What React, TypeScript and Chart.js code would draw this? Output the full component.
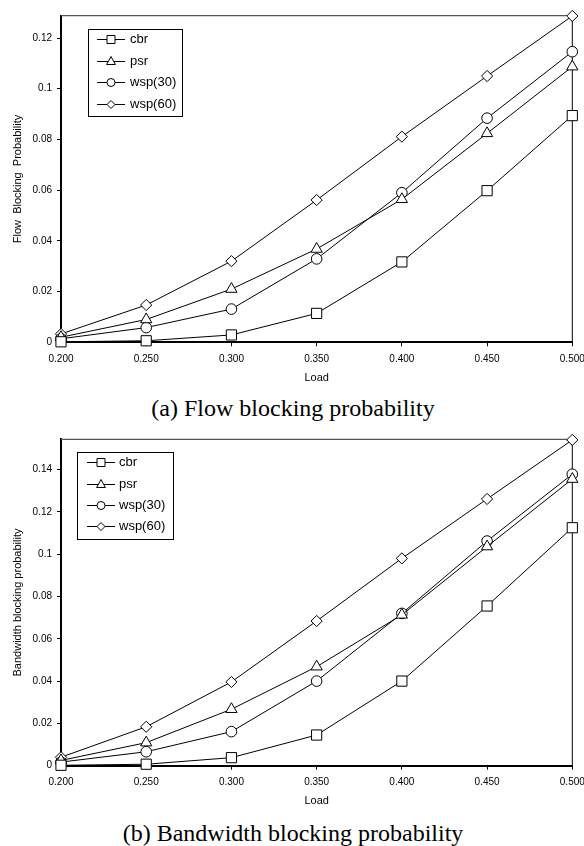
import React, { useEffect, useRef } from 'react';
import { Chart, registerables } from 'chart.js';

Chart.register(...registerables);

// ---------- data ----------
const loads = ['0.200', '0.250', '0.300', '0.350', '0.400', '0.450', '0.500'];
const seriesNames = ['cbr', 'psr', 'wsp(30)', 'wsp(60)'];

const flowCbr = [0.0002, 0.0006, 0.0029, 0.0114, 0.0317, 0.0598, 0.0894];
const flowPsr = [0.002, 0.009, 0.021, 0.0368, 0.0564, 0.0824, 0.1087];
const flowWsp30 = [0.0014, 0.0058, 0.0131, 0.0329, 0.059, 0.0884, 0.1146];
const flowWsp60 = [0.0033, 0.0147, 0.032, 0.0561, 0.0811, 0.105, 0.1287];

const bwCbr = [0.0002, 0.0007, 0.0038, 0.0145, 0.04, 0.0755, 0.1125];
const bwPsr = [0.0025, 0.0109, 0.0267, 0.0468, 0.0713, 0.1036, 0.1355];
const bwWsp30 = [0.0017, 0.0066, 0.0161, 0.04, 0.072, 0.1062, 0.1378];
const bwWsp60 = [0.004, 0.0184, 0.0396, 0.0684, 0.098, 0.1261, 0.154];

const flowYTicks = [0, 0.02, 0.04, 0.06, 0.08, 0.1, 0.12];
const flowYTickLabels = ['0', '0.02', '0.04', '0.06', '0.08', '0.1', '0.12'];
const bwYTicks = [0, 0.02, 0.04, 0.06, 0.08, 0.1, 0.12, 0.14];
const bwYTickLabels = ['0', '0.02', '0.04', '0.06', '0.08', '0.1', '0.12', '0.14'];

const FONT = "'Liberation Sans', Arial, sans-serif";

const markerStyles = ['rect', 'triangle', 'circle', 'rectRot'];
const markerRadii = [7.2, 6.5, 5.3, 5.6];
const legendMarkerSize = [4, 4.2, 4, 4];

const CANVAS_W = 632;
const PLOT_RIGHT = 572.3;

function drawMarker(ctx: CanvasRenderingContext2D, style: string, x: number, y: number, r: number) {
  ctx.beginPath();
  if (style === 'rect') {
    ctx.rect(x - r, y - r, 2 * r, 2 * r);
  } else if (style === 'triangle') {
    const h = r * 1.9;
    ctx.moveTo(x, y - h / 2 - 1);
    ctx.lineTo(x + r * 1.05, y + h / 2 - 1);
    ctx.lineTo(x - r * 1.05, y + h / 2 - 1);
    ctx.closePath();
  } else if (style === 'circle') {
    ctx.arc(x, y, r, 0, Math.PI * 2);
  } else {
    ctx.moveTo(x - r, y);
    ctx.lineTo(x, y - r);
    ctx.lineTo(x + r, y);
    ctx.lineTo(x, y + r);
    ctx.closePath();
  }
  ctx.fillStyle = '#fff';
  ctx.fill();
  ctx.stroke();
}

const boxLegend = {
  id: 'boxLegend',
  afterDraw(chart: any, _args: any, opts: any) {
    const { ctx, chartArea } = chart;
    const x = Math.round(chartArea.left + opts.dx);
    const y = Math.round(chartArea.top + opts.dy);
    ctx.save();
    ctx.fillStyle = '#fff';
    ctx.fillRect(x, y, opts.w, opts.h);
    ctx.strokeStyle = '#000';
    ctx.lineWidth = 1;
    ctx.strokeRect(x + 0.5, y + 0.5, opts.w, opts.h);
    chart.data.datasets.forEach((ds: any, i: number) => {
      const cy = Math.round(y + opts.firstRow + i * opts.rowGap) + 0.5;
      ctx.beginPath();
      ctx.moveTo(x + opts.lineX1, cy);
      ctx.lineTo(x + opts.lineX2, cy);
      ctx.strokeStyle = '#000';
      ctx.lineWidth = 1;
      ctx.stroke();
      drawMarker(ctx, markerStyles[i], x + opts.markX, cy, legendMarkerSize[i]);
      ctx.fillStyle = '#000';
      ctx.font = `13px ${FONT}`;
      ctx.textAlign = 'left';
      ctx.textBaseline = 'middle';
      ctx.fillText(ds.label, x + opts.textX, cy);
    });
    ctx.restore();
  },
};

const frame = {
  id: 'frame',
  beforeDatasetsDraw(chart: any) {
    const { ctx, chartArea } = chart;
    ctx.save();
    ctx.strokeStyle = '#555';
    ctx.lineWidth = 1.3;
    ctx.beginPath();
    ctx.moveTo(chartArea.left, chartArea.top);
    ctx.lineTo(chartArea.right, chartArea.top);
    ctx.stroke();
    ctx.strokeStyle = '#000';
    ctx.lineWidth = 1;
    ctx.beginPath();
    ctx.moveTo(chartArea.right, chartArea.top);
    ctx.lineTo(chartArea.right, chartArea.bottom);
    ctx.stroke();
    ctx.restore();
  },
};

type PanelProps = {
  series: number[][];
  yTicks: number[];
  yTickLabels: string[];
  yMax: number;
  yTitle: string;
  padTop: number;
  xAxisH: number;
  xTitlePad: number;
  yTitlePad: number;
  legend: any;
  top: number;
  height: number;
};

function Panel(p: PanelProps) {
  const ref = useRef<HTMLCanvasElement | null>(null);
  useEffect(() => {
    if (!ref.current) return;
    const datasets = seriesNames.map((name, i) => ({
      label: name,
      data: p.series[i],
      borderColor: '#000',
      borderWidth: 1,
      pointStyle: markerStyles[i],
      pointRadius: markerRadii[i],
      pointBackgroundColor: '#fff',
      pointBorderColor: '#000',
      pointBorderWidth: 1,
      tension: 0,
      fill: false,
      clip: false,
    }));
    const chart = new Chart(ref.current, {
      type: 'line',
      data: { labels: loads, datasets },
      options: {
        animation: false,
        responsive: false,
        devicePixelRatio: 1,
        events: [],
        layout: { padding: { left: 0, top: p.padTop, right: CANVAS_W - PLOT_RIGHT, bottom: 0 } },
        plugins: {
          legend: { display: false },
          tooltip: { enabled: false },
          boxLegend: p.legend,
        } as any,
        scales: {
          x: {
            type: 'category',
            offset: false,
            grid: { display: true, drawOnChartArea: false, drawTicks: true, tickLength: 4, tickColor: '#000', tickWidth: 1 },
            border: { display: true, color: '#000', width: 2 },
            ticks: { color: '#000', font: { family: FONT, size: 10 }, padding: 7, maxRotation: 0, autoSkip: false },
            title: { display: true, text: 'Load', color: '#000', font: { family: FONT, size: 11 }, padding: { top: 0, bottom: p.xTitlePad } },
            afterFit: (s: any) => { s.height = p.xAxisH; },
          },
          y: {
            type: 'linear',
            min: 0,
            max: p.yMax,
            afterBuildTicks: (s: any) => { s.ticks = p.yTicks.map((v) => ({ value: v })); },
            grid: { display: true, drawOnChartArea: false, drawTicks: true, tickLength: 4, tickColor: '#000', tickWidth: 1 },
            border: { display: true, color: '#000', width: 2 },
            ticks: {
              color: '#000',
              font: { family: FONT, size: 10 },
              padding: 5,
              callback: (_v: any, i: number) => p.yTickLabels[i],
            },
            title: { display: true, text: p.yTitle, color: '#000', font: { family: FONT, size: 11 }, padding: { top: p.yTitlePad, bottom: 0 } },
            afterFit: (s: any) => { s.width = 61; },
          },
        },
      } as any,
      plugins: [frame, boxLegend],
    });
    return () => chart.destroy();
  }, []);
  return (
    <canvas
      ref={ref}
      width={CANVAS_W}
      height={p.height}
      style={{ position: 'absolute', left: 0, top: p.top, width: CANVAS_W, height: p.height }}
    />
  );
}

const captionStyle: React.CSSProperties = {
  position: 'absolute',
  left: 0,
  width: 584,
  textAlign: 'center',
  fontFamily: "'Liberation Serif', 'Times New Roman', serif",
  fontSize: 24,
  lineHeight: '24px',
  color: '#000',
  whiteSpace: 'nowrap',
};

export default function App() {
  return (
    <div style={{ position: 'fixed', left: 0, top: 0, width: 584, height: 846, overflow: 'hidden', background: '#fff' }}>
      <Panel
        series={[flowCbr, flowPsr, flowWsp30, flowWsp60]}
        yTicks={flowYTicks}
        yTickLabels={flowYTickLabels}
        yMax={0.1288}
        yTitle="Flow  Blocking  Probability"
        padTop={15.7}
        xAxisH={52.7}
        xTitlePad={10.4}
        yTitlePad={11.4}
        legend={{ dx: 27, dy: 13, w: 94, h: 87, firstRow: 9.8, rowGap: 21.7, lineX1: 9, lineX2: 37, markX: 23, textX: 42 }}
        top={0}
        height={395}
      />
      <div style={{ ...captionStyle, top: 396, left: 1 }}>(a) Flow blocking probability</div>
      <Panel
        series={[bwCbr, bwPsr, bwWsp30, bwWsp60]}
        yTicks={bwYTicks}
        yTickLabels={bwYTickLabels}
        yMax={0.1543}
        yTitle="Bandwidth blocking probability"
        padTop={19.3}
        xAxisH={49.3}
        xTitlePad={7.4}
        yTitlePad={11}
        legend={{ dx: 15.7, dy: 13, w: 96, h: 87, firstRow: 10.4, rowGap: 21.2, lineX1: 10, lineX2: 38, markX: 24, textX: 42 }}
        top={420}
        height={395}
      />
      <div style={{ ...captionStyle, top: 821, left: 1 }}>(b) Bandwidth blocking probability</div>
    </div>
  );
}
